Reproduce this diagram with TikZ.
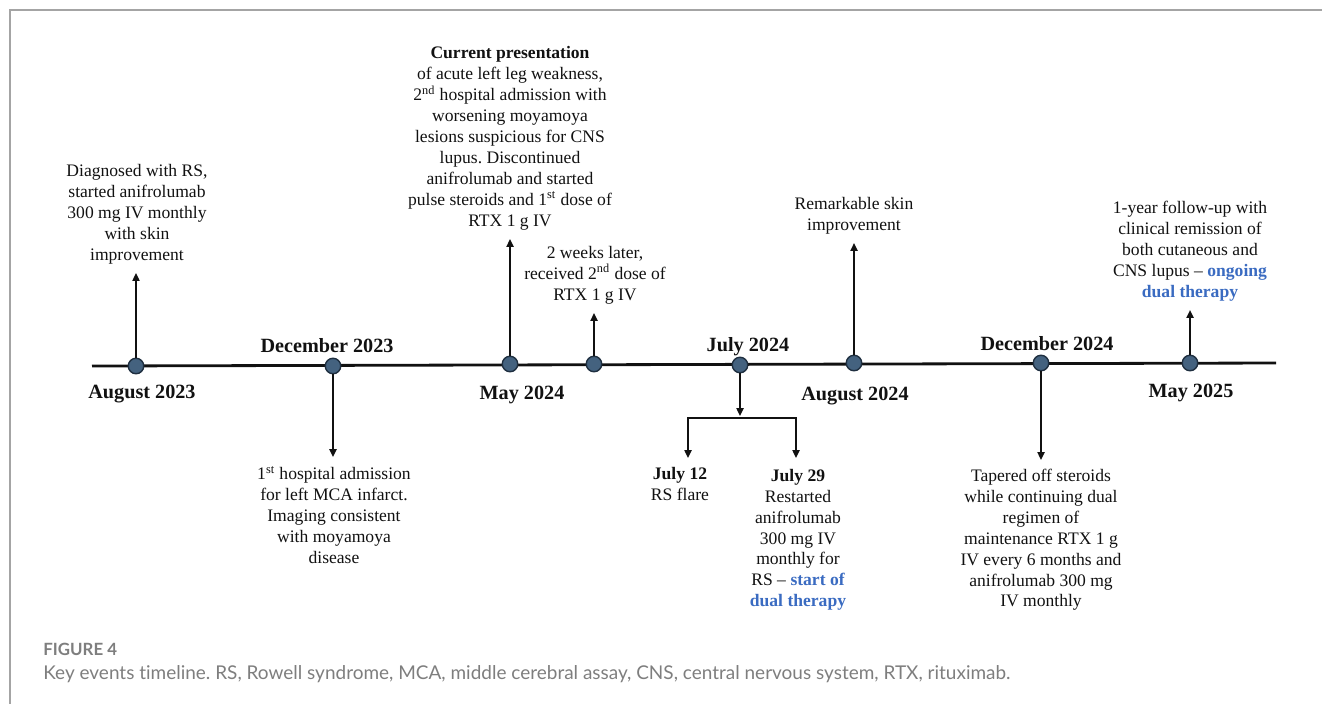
\documentclass[tikz,border=0pt]{standalone}
\usepackage{fontspec}
\setmainfont{Liberation Serif}
\newfontfamily\capfont[Ligatures=NoCommon]{Lato}
\usepackage{xcolor}
\usetikzlibrary{arrows.meta}
\definecolor{tblack}{HTML}{111111}
\definecolor{tdot}{HTML}{44627F}
\definecolor{tdotline}{HTML}{1F2F40}
\definecolor{tblue}{HTML}{3A6BC1}
\definecolor{tframe}{HTML}{A4A4A4}
\definecolor{tcap}{HTML}{7E7E7E}
\newcommand{\hlblue}[1]{\textbf{\textcolor{tblue}{#1}}}
\frenchspacing

\begin{document}
\begin{tikzpicture}[x=0.02cm, y=-0.02cm,
	dot/.style={circle, draw=tdotline, line width=0.8pt, fill=tdot, minimum size=0.31cm, inner sep=0pt},
	arr/.style={draw=tblack, line width=1.1pt, -{Triangle[length=4.5pt, width=4pt]}},
	brk/.style={draw=tblack, line width=1.1pt, {Triangle[length=4.5pt, width=4pt]}-{Triangle[length=4.5pt, width=4pt]}},
	event/.style={align=center, inner sep=5pt, text=tblack, font=\fontsize{10}{11.9}\selectfont},
	date/.style={anchor=base, inner sep=0pt, text=tblack, font=\fontsize{11.5}{13}\selectfont\bfseries}]
	\useasboundingbox (0,0) rectangle (1322,704);
	% frame
	\draw[tframe, line width=0.85pt] (1322,10) -- (10,10) -- (10,704);
	% timeline
	\coordinate (lstart) at (92,366);
	\coordinate (lend) at (1276,363);
	\draw[tblack, line width=1.6pt] (lstart) -- (lend);
	\node[dot] (d1) at (136,366) {};
	\node[dot] (d2) at (333,366) {};
	\node[dot] (d3) at (510,364) {};
	\node[dot] (d4) at (594,364) {};
	\node[dot] (d5) at (740,365) {};
	\node[dot] (d6) at (854,363) {};
	\node[dot] (d7) at (1041,363) {};
	\node[dot] (d8) at (1190,363) {};
	% dates
	\node[date] (l1) at (142,398) {August 2023};
	\node[date] (l2) at (327,352) {December 2023};
	\node[date] (l3) at (522,399) {May 2024};
	\node[date] (l5) at (748,351) {July 2024};
	\node[date] (l6) at (855,400) {August 2024};
	\node[date] (l7) at (1047,350) {December 2024};
	\node[date] (l8) at (1191,397) {May 2025};
	% events above
	\node[event, anchor=south] (e1) at (137,273) {Diagnosed with RS,\\started anifrolumab\\300 mg IV monthly\\with skin\\improvement};
	\node[event, anchor=south] (e3) at (510,239) {\textbf{Current presentation}\\of acute left leg weakness,\\2\textsuperscript{nd} hospital admission with\\worsening moyamoya\\lesions suspicious for CNS\\lupus. Discontinued\\anifrolumab and started\\pulse steroids and 1\textsuperscript{st} dose of\\RTX 1 g IV};
	\node[event, anchor=south] (e4) at (595,313) {2 weeks later,\\received 2\textsuperscript{nd} dose of\\RTX 1 g IV};
	\node[event, anchor=south] (e6) at (854,243) {Remarkable skin\\improvement};
	\node[event, anchor=south] (e8) at (1190,310) {1-year follow-up with\\clinical remission of\\both cutaneous and\\CNS lupus -- \hlblue{ongoing}\\\hlblue{dual therapy}};
	\draw[arr] (d1) -- (d1 |- e1.south);
	\draw[arr] (d3) -- (d3 |- e3.south);
	\draw[arr] (d4) -- (d4 |- e4.south);
	\draw[arr] (d6) -- (d6 |- e6.south);
	\draw[arr] (d8) -- (d8 |- e8.south);
	% events below
	\node[event, anchor=north] (e2) at (334,457) {1\textsuperscript{st} hospital admission\\for left MCA infarct.\\Imaging consistent\\with moyamoya\\disease};
	\node[event, anchor=north] (e7) at (1041,460) {Tapered off steroids\\while continuing dual\\regimen of\\maintenance RTX 1 g\\IV every 6 months and\\anifrolumab 300 mg\\IV monthly};
	\draw[arr] (d2) -- (d2 |- e2.north);
	\draw[arr] (d7) -- (d7 |- e7.north);
	% july split
	\coordinate (jb) at (740,416);
	\coordinate (jl) at (688,418);
	\coordinate (jr) at (796,418);
	\node[event, anchor=north] (e5a) at (680,458) {\textbf{July 12}\\RS flare};
	\node[event, anchor=north] (e5b) at (798,460) {\textbf{July 29}\\Restarted\\anifrolumab\\300 mg IV\\monthly for\\RS -- \hlblue{start of}\\\hlblue{dual therapy}};
	\draw[arr] (d5) -- (jb);
	\draw[brk] (jl |- e5a.north) -- (jl) -- (jr) -- (jr |- e5a.north);
	% caption
	\node[anchor=base west, inner sep=0pt, text=tcap, font=\capfont\fontsize{9.6}{11}\selectfont\bfseries] (fig) at (43,655) {FIGURE 4};
	\node[anchor=base west, inner sep=0pt, text=tcap, font=\capfont\fontsize{10.8}{13}\selectfont] (cap) at (43,679) {Key events timeline. RS, Rowell syndrome, MCA, middle cerebral assay, CNS, central nervous system, RTX, rituximab.};
\end{tikzpicture}
\end{document}
